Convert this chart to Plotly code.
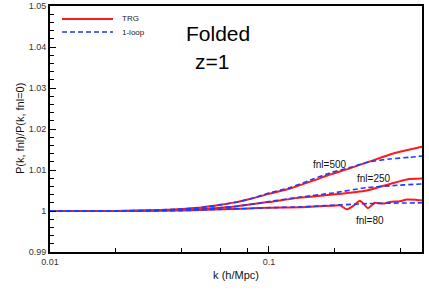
import plotly.graph_objects as go

# ---- data ----
k_trg500 = [0.01, 0.02, 0.03, 0.04, 0.05, 0.06, 0.07, 0.08, 0.09, 0.1, 0.125, 0.159, 0.19, 0.234, 0.289, 0.357, 0.44, 0.5]
p_trg500 = [1.0, 1.0, 1.0002, 1.0005, 1.0009, 1.0015, 1.0021, 1.0028, 1.0035, 1.0042, 1.0055, 1.0074, 1.0089, 1.0104, 1.0121, 1.0138, 1.0150, 1.0157]
k_loop500 = [0.01, 0.02, 0.03, 0.04, 0.05, 0.06, 0.07, 0.08, 0.09, 0.1, 0.125, 0.159, 0.19, 0.234, 0.289, 0.357, 0.44, 0.5]
p_loop500 = [1.0, 1.0, 1.0002, 1.0005, 1.0009, 1.0015, 1.0021, 1.0028, 1.0036, 1.0044, 1.0057, 1.0078, 1.0093, 1.0106, 1.0120, 1.0127, 1.0131, 1.0134]

k_trg250 = [0.01, 0.02, 0.03, 0.04, 0.05, 0.06, 0.07, 0.08, 0.09, 0.1, 0.136, 0.196, 0.28, 0.357, 0.427, 0.5]
p_trg250 = [1.0, 1.0, 1.0001, 1.0003, 1.0005, 1.0008, 1.0011, 1.0015, 1.0019, 1.0022, 1.0032, 1.0040, 1.0050, 1.0066, 1.0077, 1.0079]
k_loop250 = [0.01, 0.02, 0.03, 0.04, 0.05, 0.06, 0.07, 0.08, 0.09, 0.1, 0.139, 0.196, 0.28, 0.396, 0.5]
p_loop250 = [1.0, 1.0, 1.0001, 1.0003, 1.0005, 1.0008, 1.0011, 1.0015, 1.0019, 1.0023, 1.0034, 1.0044, 1.0057, 1.0063, 1.0066]

k_trg80 = [0.01, 0.02, 0.04, 0.06, 0.08, 0.1, 0.139, 0.196, 0.211, 0.227, 0.242, 0.260, 0.272, 0.283, 0.295, 0.305, 0.332, 0.357, 0.396, 0.427, 0.474, 0.5]
p_trg80 = [1.0, 1.0, 1.0001, 1.0004, 1.0006, 1.0008, 1.0009, 1.0013, 1.0014, 1.0004, 1.0012, 1.0025, 1.0016, 1.0007, 1.0014, 1.0020, 1.0018, 1.0022, 1.0024, 1.0028, 1.0027, 1.0026]
k_loop80 = [0.01, 0.02, 0.04, 0.06, 0.08, 0.1, 0.139, 0.28, 0.5]
p_loop80 = [1.0, 1.0, 1.0001, 1.0004, 1.0006, 1.0008, 1.0010, 1.0018, 1.0020]

x_tick_major = [0.01, 0.1]
x_tick_labels = ["0.01", "0.1"]
x_tick_minor = [0.02, 0.04, 0.06, 0.08, 0.2, 0.4]
y_tick_major = [0.99, 1.0, 1.01, 1.02, 1.03, 1.04, 1.05]
y_tick_labels = ["0.99", "1", "1.01", "1.02", "1.03", "1.04", "1.05"]

RED = "rgb(255,25,25)"
BLUE = "rgb(30,60,255)"
FONT = "Liberation Sans, Arial, Helvetica, sans-serif"

fig = go.Figure()
for k, p in [(k_trg500, p_trg500), (k_trg250, p_trg250), (k_trg80, p_trg80)]:
    fig.add_trace(go.Scatter(x=k, y=p, mode="lines", showlegend=False, hoverinfo="skip",
                             line=dict(color=RED, width=2, shape="spline", smoothing=0.6)))
for k, p in [(k_loop500, p_loop500), (k_loop250, p_loop250), (k_loop80, p_loop80)]:
    fig.add_trace(go.Scatter(x=k, y=p, mode="lines", showlegend=False, hoverinfo="skip",
                             line=dict(color=BLUE, width=1.6, dash="5px,3px", shape="spline", smoothing=0.6)))

fig.update_layout(
    width=429, height=303,
    margin=dict(l=50, r=7, t=6, b=51),
    paper_bgcolor="white", plot_bgcolor="white",
    font=dict(family=FONT, size=9, color="#222"),
    showlegend=False,
    xaxis=dict(type="log", range=[-2, -0.30103], showgrid=False, zeroline=False, automargin=False,
               tickmode="array", tickvals=x_tick_major, ticktext=x_tick_labels,
               ticks="inside", ticklen=6, tickwidth=1, tickcolor="black",
               minor=dict(tickmode="array", tickvals=x_tick_minor, ticks="inside", ticklen=4, tickcolor="black", showgrid=False),
               showline=True, linecolor="black", linewidth=2, mirror=True,
               tickfont=dict(size=9, color="#333"),
               title=dict(text="k (h/Mpc)", font=dict(size=11, color="#111"), standoff=6)),
    yaxis=dict(range=[0.99, 1.05], showgrid=False, zeroline=False, automargin=False,
               tickmode="array", tickvals=y_tick_major, ticktext=y_tick_labels,
               ticks="inside", ticklen=6, tickwidth=1, tickcolor="black",
               minor=dict(dtick=0.002, ticks="inside", ticklen=4, tickcolor="black", showgrid=False),
               showline=True, linecolor="black", linewidth=2, mirror=True,
               tickfont=dict(size=9, color="#333")),
)

# y-axis title placed as rotated text
fig.add_annotation(text="P(k, fnl)/P(k, fnl=0)", xref="paper", yref="paper", x=-0.0806, y=0.5,
                   textangle=-90, showarrow=False, xanchor="center", yanchor="middle",
                   font=dict(size=11, color="#111"))

# legend drawn manually (long line samples as in the reference)
fig.add_shape(type="line", xref="paper", yref="paper", x0=0.0323, x1=0.1694, y0=0.9472, y1=0.9472,
              line=dict(color=RED, width=2))
fig.add_shape(type="line", xref="paper", yref="paper", x0=0.0323, x1=0.1694, y0=0.8943, y1=0.8943,
              line=dict(color=BLUE, width=1.6, dash="5px,3px"))
fig.add_annotation(text="TRG", xref="paper", yref="paper", x=0.188, y=0.9472, xanchor="left", yanchor="middle",
                   showarrow=False, font=dict(size=8, color="#222"))
fig.add_annotation(text="1-loop", xref="paper", yref="paper", x=0.188, y=0.8943, xanchor="left", yanchor="middle",
                   showarrow=False, font=dict(size=8, color="#222"))

fig.add_annotation(text="Folded", xref="paper", yref="paper", x=0.4516, y=0.890, showarrow=False,
                   xanchor="center", yanchor="middle", font=dict(size=21, color="black"))
fig.add_annotation(text="z=1", xref="paper", yref="paper", x=0.4355, y=0.776, showarrow=False,
                   xanchor="center", yanchor="middle", font=dict(size=21, color="black"))

for txt, px, py in [("fnl=500", 0.7527, 0.3577), ("fnl=250", 0.871, 0.3008), ("fnl=80", 0.860, 0.130)]:
    fig.add_annotation(text=txt, xref="paper", yref="paper", x=px, y=py, showarrow=False,
                       xanchor="center", yanchor="middle", font=dict(size=10, color="#111"))

fig.write_html("out.html", config={"displayModeBar": False, "staticPlot": True},
               post_script="document.body.style.margin='0';document.body.style.padding='0';")
